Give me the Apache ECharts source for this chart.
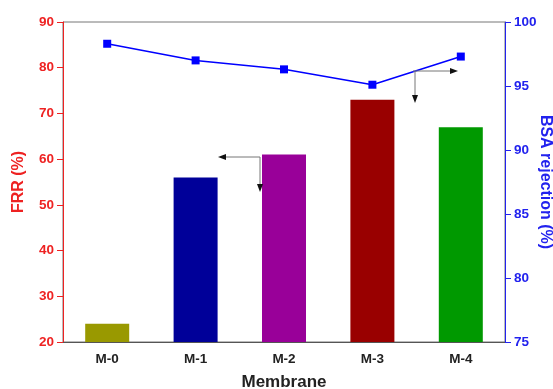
<!DOCTYPE html>
<html>
<head>
<meta charset="utf-8">
<script src="https://cdn.jsdelivr.net/npm/echarts@6/dist/echarts.min.js"></script>
<style>
  html, body { margin: 0; padding: 0; background: #fff; }
  #chart { width: 553px; height: 389px; }
</style>
</head>
<body>
<div id="chart"></div>
<script>
// Membrane samples
const membranes = ['M-0', 'M-1', 'M-2', 'M-3', 'M-4'];
// Flux recovery ratio, %
const frr = [24, 56, 61, 73, 67];
// BSA rejection, %
const bsaRejection = [98.3, 97.0, 96.3, 95.1, 97.3];
// Bar fill per membrane
const barColors = ['#999900', '#000099', '#990099', '#990000', '#009900'];
// Axis ticks
const frrTicks = { min: 20, max: 90, interval: 10 };
const bsaTicks = { min: 75, max: 100, interval: 5 };

const FONT = '"Liberation Sans", Arial, sans-serif';
const RED = '#ee2222';
const BLUE = '#2222ee';

const chart = echarts.init(document.getElementById('chart'), null, { renderer: 'canvas' });

// Small pointer arrows telling which axis each series belongs to
function arrow(x1, y1, x2, y2) {
  const ang = Math.atan2(y2 - y1, x2 - x1);
  const L = 8, W = 3;
  const bx = x2 - L * Math.cos(ang), by = y2 - L * Math.sin(ang);
  const px = -Math.sin(ang) * W, py = Math.cos(ang) * W;
  return [
    { type: 'line', shape: { x1, y1, x2: bx, y2: by }, style: { stroke: '#777', lineWidth: 1 }, z: 20 },
    { type: 'polygon', shape: { points: [[x2, y2], [bx + px, by + py], [bx - px, by - py]] }, style: { fill: '#111' }, z: 20 }
  ];
}

chart.setOption({
  animation: false,
  backgroundColor: '#fff',
  grid: {
    left: 63, right: 48, top: 22, bottom: 47,
    containLabel: false, outerBoundsMode: 'none',
    show: true, borderColor: '#777', borderWidth: 1
  },
  xAxis: {
    type: 'category',
    data: membranes,
    name: 'Membrane',
    nameLocation: 'middle',
    nameGap: 32,
    nameTextStyle: { fontFamily: FONT, fontWeight: 'bold', fontSize: 17, color: '#222' },
    axisLine: { lineStyle: { color: '#555', width: 1 } },
    axisTick: { alignWithLabel: true, length: 5, lineStyle: { color: '#555' } },
    axisLabel: { fontFamily: FONT, fontWeight: 'bold', fontSize: 13.5, color: '#222', margin: 10 }
  },
  yAxis: [
    {
      type: 'value',
      min: frrTicks.min, max: frrTicks.max, interval: frrTicks.interval,
      name: 'FRR (%)',
      nameLocation: 'middle',
      nameGap: 36,
      nameTextStyle: { fontFamily: FONT, fontWeight: 'bold', fontSize: 16, color: RED },
      axisLine: { show: true, lineStyle: { color: RED, width: 1 } },
      axisTick: { show: true, length: 6, lineStyle: { color: RED } },
      axisLabel: { fontFamily: FONT, fontWeight: 'bold', fontSize: 13.5, color: RED, margin: 9 },
      splitLine: { show: false }
    },
    {
      type: 'value',
      position: 'right',
      min: bsaTicks.min, max: bsaTicks.max, interval: bsaTicks.interval,
      name: 'BSA rejection (%)',
      nameLocation: 'middle',
      nameRotate: -90,
      nameGap: 40,
      nameMoveOverlap: false,
      nameTextStyle: {
        fontFamily: FONT, fontWeight: 'bold', fontSize: 16, color: BLUE,
        align: 'center', verticalAlign: 'middle'
      },
      axisLine: { show: true, lineStyle: { color: BLUE, width: 1 } },
      axisTick: { show: true, length: 6, lineStyle: { color: BLUE } },
      axisLabel: { fontFamily: FONT, fontWeight: 'bold', fontSize: 13.5, color: BLUE, margin: 9 },
      splitLine: { show: false }
    }
  ],
  series: [
    {
      name: 'FRR',
      type: 'bar',
      yAxisIndex: 0,
      barWidth: 44,
      data: frr.map((v, i) => ({ value: v, itemStyle: { color: barColors[i] } }))
    },
    {
      name: 'BSA rejection',
      type: 'line',
      yAxisIndex: 1,
      data: bsaRejection,
      symbol: 'rect',
      symbolSize: 8,
      lineStyle: { color: '#0000ff', width: 1.5 },
      itemStyle: { color: '#0000ff' },
      z: 5
    }
  ],
  graphic: [
    ...arrow(260, 157, 218, 157),
    ...arrow(260, 157, 260, 192),
    ...arrow(413, 71, 458, 71),
    ...arrow(415, 71, 415, 103)
  ]
});
</script>
</body>
</html>
